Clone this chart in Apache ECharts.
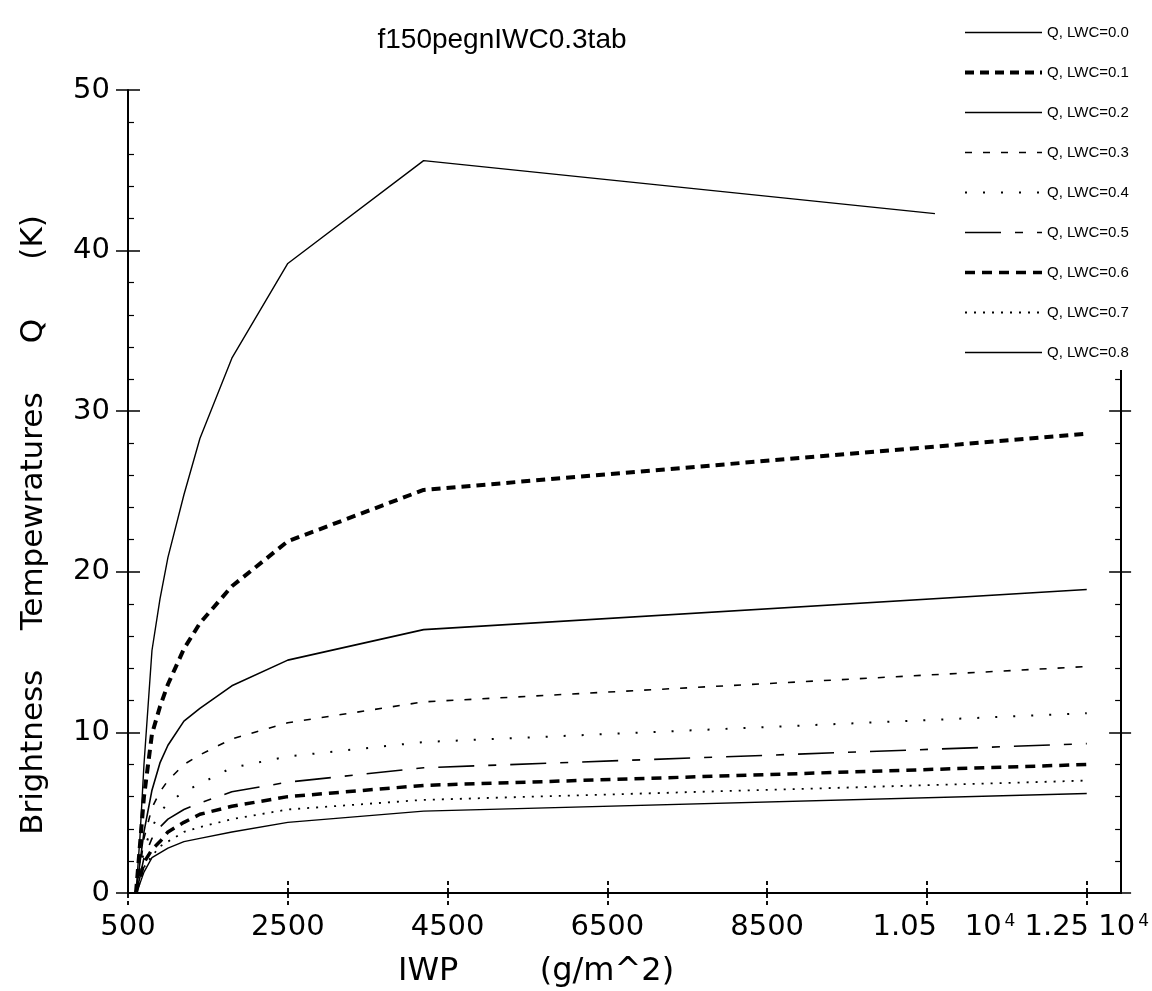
<!DOCTYPE html>
<html><head><meta charset="utf-8">
<script src="https://cdn.jsdelivr.net/npm/echarts@6/dist/echarts.min.js"></script>
<style>html,body{margin:0;padding:0;background:#fff}#c{width:1152px;height:991px}</style>
</head><body><div id="c"></div><script>
// ---- data ----
const iwp    = [600, 650, 700, 800, 900, 1000, 1200, 1400, 1800, 2500, 4200, 12500];
const iwpTop = [600, 650, 700, 800, 900, 1000, 1200, 1400, 1800, 2500, 4200, 10600];
const seriesNames = ['Q, LWC=0.0','Q, LWC=0.1','Q, LWC=0.2','Q, LWC=0.3','Q, LWC=0.4','Q, LWC=0.5','Q, LWC=0.6','Q, LWC=0.7','Q, LWC=0.8'];
const q00 = [0, 3.5, 8.0, 15.1, 18.3, 20.9, 24.8, 28.3, 33.3, 39.2, 45.6, 42.3];
const q01 = [0, 3.0, 6.0, 9.9, 11.6, 13.0, 15.2, 16.8, 19.1, 21.9, 25.1, 28.6];
const q02 = [0, 1.9, 3.8, 6.4, 8.1, 9.2, 10.7, 11.5, 12.9, 14.5, 16.4, 18.9];
const q03 = [0, 1.5, 3.4, 5.3, 6.3, 7.0, 8.0, 8.6, 9.6, 10.6, 11.9, 14.1];
const q04 = [0, 1.2, 2.7, 4.1, 5.0, 5.6, 6.3, 6.8, 7.8, 8.5, 9.4, 11.2];
const q05 = [0, 1.0, 2.2, 3.4, 4.1, 4.6, 5.2, 5.6, 6.3, 6.9, 7.8, 9.3];
const q06 = [0, 0.9, 1.9, 2.7, 3.2, 3.8, 4.4, 4.9, 5.4, 6.0, 6.7, 8.0];
const q07 = [0, 0.8, 1.6, 2.3, 2.9, 3.2, 3.8, 4.1, 4.6, 5.2, 5.8, 7.0];
const q08 = [0, 0.6, 1.3, 2.2, 2.5, 2.8, 3.2, 3.4, 3.8, 4.4, 5.1, 6.2];
const xTickValues = [500, 2500, 4500, 6500, 8500, 10500, 12500];
const xTickLabels = ['500', '2500', '4500', '6500', '8500', '1.05   10^4', '1.25 10^4'];
const titleText = 'f150pegnIWC0.3tab';
const xName = 'IWP        (g/m^2)';
const yName = 'Brightness    Tempewratures     Q      (K)';

// ---- styling ----
const FONT = 'DejaVu Sans';
const lineStyles = [
  {type: 'solid', width: 1.4},
  {type: [9, 6], width: 4},
  {type: 'solid', width: 1.6},
  {type: [7, 11], width: 1.6},
  {type: [2, 16], width: 2},
  {type: [36, 14, 8, 14], width: 1.6},
  {type: [10, 7], width: 3.5},
  {type: [2, 7], width: 1.8},
  {type: 'solid', width: 1.4}
];
const values = [q00, q01, q02, q03, q04, q05, q06, q07, q08];
const series = values.map((vals, i) => ({
  name: seriesNames[i],
  type: 'line',
  xAxisIndex: 0, yAxisIndex: 0,
  symbol: 'none',
  silent: true,
  animation: false,
  data: (i === 0 ? iwpTop : iwp).map((x, j) => [x, vals[j]]),
  lineStyle: Object.assign({color: '#000'}, lineStyles[i]),
  itemStyle: {color: '#000'}
}));

const XMIN = 500, XMAX = 12930;
// label at 1.05e4 sits a little right of its tick in the original
const labelStyleKey = {10500: 'mr'};
function xLabel(val) {
  const k = xTickValues.indexOf(val);
  if (k < 0) return '';
  const parts = xTickLabels[k].split('^');
  const key = labelStyleKey[val] || 'm';
  if (parts.length === 1) return '{' + key + '|' + parts[0] + '}';
  return '{' + key + '|' + parts[0] + '}{s|' + parts[1] + '}';
}
const tickDash = {color: '#000', width: 1.5, type: [5, 3]};
const baseX = {type: 'value', min: XMIN, max: XMAX, splitLine: {show: false}, gridIndex: 0};
const baseY = {type: 'value', min: 0, max: 50, interval: 10, splitLine: {show: false}, gridIndex: 0};

const option = {
  backgroundColor: '#fff',
  animation: false,
  grid: {left: 128, right: 27, top: 90, bottom: 98, containLabel: false},
  xAxis: [
    Object.assign({}, baseX, {
      position: 'bottom',
      axisLine: {show: true, lineStyle: {color: '#000', width: 2}},
      axisTick: {show: true, inside: false, length: 12, customValues: xTickValues, lineStyle: tickDash},
      axisLabel: {show: true, customValues: xTickValues, formatter: xLabel, margin: 20,
        color: '#000', fontFamily: FONT, fontSize: 29,
        rich: {
          m: {fontSize: 29, fontFamily: FONT, color: '#000'},
          mr: {fontSize: 29, fontFamily: FONT, color: '#000', padding: [0, 0, 0, 34]},
          s: {fontSize: 17, fontFamily: FONT, color: '#000', verticalAlign: 'top', lineHeight: 10, padding: [0, 0, 0, 3]}
        }}
    }),
    Object.assign({}, baseX, {
      position: 'bottom',
      axisLine: {show: false},
      axisTick: {show: true, inside: true, length: 12, customValues: xTickValues, lineStyle: tickDash},
      axisLabel: {show: false}
    }),
    Object.assign({}, baseX, {
      position: 'top',
      axisLine: {show: true, lineStyle: {color: '#000', width: 2}},
      axisTick: {show: true, inside: false, length: 12, customValues: xTickValues, lineStyle: tickDash},
      axisLabel: {show: false}
    }),
    Object.assign({}, baseX, {
      position: 'top',
      axisLine: {show: false},
      axisTick: {show: true, inside: true, length: 12, customValues: xTickValues, lineStyle: tickDash},
      axisLabel: {show: false}
    })
  ],
  yAxis: [
    Object.assign({}, baseY, {
      position: 'left',
      axisLine: {show: true, lineStyle: {color: '#000', width: 2}},
      axisTick: {show: true, inside: false, length: 12, lineStyle: {color: '#000', width: 1.5}},
      axisLabel: {show: true, margin: 18, color: '#000', fontFamily: FONT, fontSize: 29}
    }),
    Object.assign({}, baseY, {
      position: 'left',
      axisLine: {show: false},
      axisTick: {show: true, inside: true, length: 12, lineStyle: {color: '#000', width: 1.5}},
      minorTick: {show: true, splitNumber: 5, length: 6, lineStyle: {color: '#000', width: 1.2}},
      axisLabel: {show: false}
    }),
    Object.assign({}, baseY, {
      position: 'right',
      axisLine: {show: true, lineStyle: {color: '#000', width: 2}},
      axisTick: {show: true, inside: true, length: 12, lineStyle: {color: '#000', width: 1.5}},
      minorTick: {show: true, splitNumber: 5, length: 6, lineStyle: {color: '#000', width: 1.2}},
      axisLabel: {show: false}
    }),
    Object.assign({}, baseY, {
      position: 'right',
      axisLine: {show: false},
      axisTick: {show: true, inside: false, length: 10, lineStyle: {color: '#000', width: 1.5}},
      axisLabel: {show: false}
    })
  ],
  legend: {
    orient: 'vertical', left: 955, top: 0,
    padding: [25, 12, 10, 8],
    itemWidth: 77, itemHeight: 14, itemGap: 25,
    backgroundColor: '#fff',
    selectedMode: false,
    itemStyle: {opacity: 0},
    lineStyle: {width: 'inherit', type: 'inherit'},
    textStyle: {fontSize: 15, fontFamily: 'Liberation Sans', color: '#000', lineHeight: 14},
    data: seriesNames
  },
  graphic: [
    {type: 'text', x: 502, y: 40, style: {text: titleText, font: '28px "Liberation Sans"', fill: '#000', align: 'center', verticalAlign: 'middle'}},
    {type: 'text', x: 398, y: 972, style: {text: xName, font: '32px "' + FONT + '"', fill: '#000', align: 'left', verticalAlign: 'middle'}},
    {type: 'text', x: 34, y: 525, rotation: Math.PI / 2, style: {text: yName, font: '31px "' + FONT + '"', fill: '#000', align: 'center', verticalAlign: 'middle'}}
  ],
  series: series
};
const chart = echarts.init(document.getElementById('c'));
chart.setOption(option);
</script></body></html>
